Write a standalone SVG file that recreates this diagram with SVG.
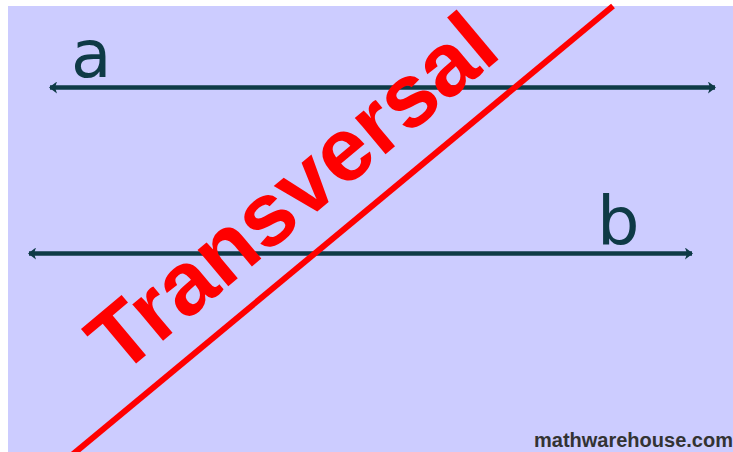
<svg xmlns="http://www.w3.org/2000/svg" width="733" height="452" viewBox="0 0 733 452">
  <style>
    .line { stroke: #0E3A46; stroke-width: 4.5; fill: none; }
    .lbl { font-family: "DejaVu Sans", "Liberation Sans", sans-serif; fill: #0E3A46; }
    .trans { font-family: "Liberation Sans", Arial, sans-serif; font-weight: bold; fill: #FF0000; }
    .wm { font-family: "Liberation Sans", Arial, sans-serif; font-weight: bold; fill: #333333; }
  </style>
  <defs>
    <marker id="arr" viewBox="0 0 8 12" refX="7" refY="6" markerWidth="8" markerHeight="12" markerUnits="userSpaceOnUse" orient="auto-start-reverse">
      <path d="M0,0 L8,6 L0,12 L2,6 Z" fill="#0E3A46"/>
    </marker>
  </defs>
  <rect x="0" y="0" width="733" height="452" fill="#FFFFFF"/>
  <rect x="8" y="6" width="725" height="446" fill="#CCCCFF"/>
  <g id="connectors">
    <line id="line-a" class="line" x1="50" y1="87.5" x2="715" y2="87.5" marker-start="url(#arr)" marker-end="url(#arr)"/>
    <line id="line-b" class="line" x1="29" y1="253.5" x2="692" y2="253.5" marker-start="url(#arr)" marker-end="url(#arr)"/>
    <line id="transversal" x1="72" y1="455" x2="613" y2="6" stroke="#FF0000" stroke-width="6"/>
  </g>
  <g id="label-a"><text class="lbl" x="71" y="77" font-size="66">a</text></g>
  <g id="label-b"><text class="lbl" x="597" y="245" font-size="67">b</text></g>
  <g id="label-transversal">
    <text class="trans" font-size="90" transform="translate(120,377) rotate(-40)">Transversal</text>
  </g>
  <g id="watermark"><text class="wm" x="534" y="447" font-size="20">mathwarehouse.com</text></g>
</svg>
